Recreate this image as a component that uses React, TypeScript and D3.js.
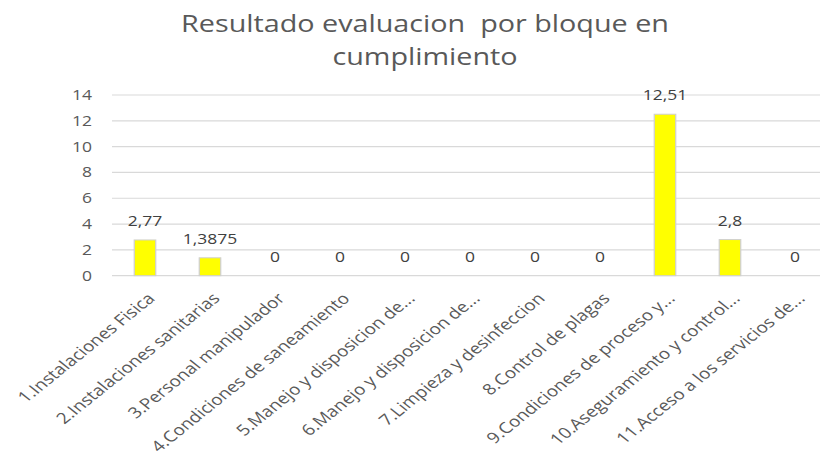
import React, { useEffect, useRef } from "react";
import * as d3 from "d3";

// chart data
const categories: string[] = [
  "1.Instalaciones Fisica",
  "2.Instalaciones sanitarias",
  "3.Personal manipulador",
  "4.Condiciones de saneamiento",
  "5.Manejo y disposicion de...",
  "6.Manejo y disposicion de...",
  "7.Limpieza y desinfeccion",
  "8.Control de plagas",
  "9.Condiciones de proceso y...",
  "10.Aseguramiento y control...",
  "11.Acceso a los servicios de...",
];
const values: number[] = [2.77, 1.3875, 0, 0, 0, 0, 0, 0, 12.51, 2.8, 0];
const yTicks: number[] = [0, 2, 4, 6, 8, 10, 12, 14];
const titleLines: string[] = ["Resultado evaluacion  por bloque en", "cumplimiento"];

// the reference is stretched horizontally, so draw in a narrower viewBox
const SX = 1.25;
const W = 820 / SX;
const H = 455;
const FONT = "'Open Sans', sans-serif";
const GREY = "#595959";

export default function App() {
  const ref = useRef<SVGSVGElement>(null);

  useEffect(() => {
    const svg = d3.select(ref.current);
    svg.selectAll("*").remove();

    const x = d3
      .scaleBand<number>()
      .domain(d3.range(categories.length))
      .range([112.5 / SX, 827.5 / SX])
      .paddingInner(0.67)
      .paddingOuter(0.335);

    const y = d3.scaleLinear().domain([0, 14]).range([275.7, 95]);

    const left = 112 / SX;

    // title
    svg
      .append("g")
      .selectAll("text")
      .data(titleLines)
      .join("text")
      .attr("x", 425 / SX)
      .attr("y", (d, i) => 32 + i * 33)
      .attr("text-anchor", "middle")
      .attr("font-family", FONT)
      .attr("font-size", 23)
      .attr("fill", GREY)
      .style("white-space", "pre")
      .text((d) => d);

    // gridlines
    svg
      .append("g")
      .selectAll("line")
      .data(yTicks)
      .join("line")
      .attr("x1", left)
      .attr("x2", W)
      .attr("y1", (d) => y(d))
      .attr("y2", (d) => y(d))
      .attr("stroke", "#d9d9d9")
      .attr("stroke-width", 1.2);

    // y tick labels
    svg
      .append("g")
      .selectAll("text")
      .data(yTicks)
      .join("text")
      .attr("x", 92 / SX)
      .attr("y", (d) => y(d))
      .attr("dy", "0.36em")
      .attr("text-anchor", "end")
      .attr("font-family", FONT)
      .attr("font-size", 14)
      .attr("fill", GREY)
      .text((d) => d);

    // bars
    svg
      .append("g")
      .selectAll("rect")
      .data(values)
      .join("rect")
      .attr("x", (d, i) => x(i)!)
      .attr("width", x.bandwidth())
      .attr("y", (d) => y(d))
      .attr("height", (d) => y(0) - y(d))
      .attr("fill", "#ffff00")
      .attr("stroke", "#d0d0d0")
      .attr("stroke-width", 1);

    // data labels
    svg
      .append("g")
      .selectAll("text")
      .data(values)
      .join("text")
      .attr("x", (d, i) => x(i)! + x.bandwidth() / 2)
      .attr("y", (d) => y(d) - 14)
      .attr("text-anchor", "middle")
      .attr("font-family", FONT)
      .attr("font-size", 14)
      .attr("fill", "#404040")
      .text((d) => String(d).replace(".", ","));

    // category labels, rotated
    svg
      .append("g")
      .selectAll("text")
      .data(categories)
      .join("text")
      .attr(
        "transform",
        (d, i) => `translate(${x(i)! + x.bandwidth() / 2 + 1},${y(0) + 16}) rotate(-45)`
      )
      .attr("dy", "0.72em")
      .attr("text-anchor", "end")
      .attr("font-family", FONT)
      .attr("font-size", 15.2)
      .attr("fill", GREY)
      .text((d) => d);
  }, []);

  return (
    <svg
      ref={ref}
      width={820}
      height={H}
      viewBox={`0 0 ${W} ${H}`}
      preserveAspectRatio="none"
      style={{ position: "absolute", left: 0, top: 0, background: "#fff" }}
    />
  );
}
